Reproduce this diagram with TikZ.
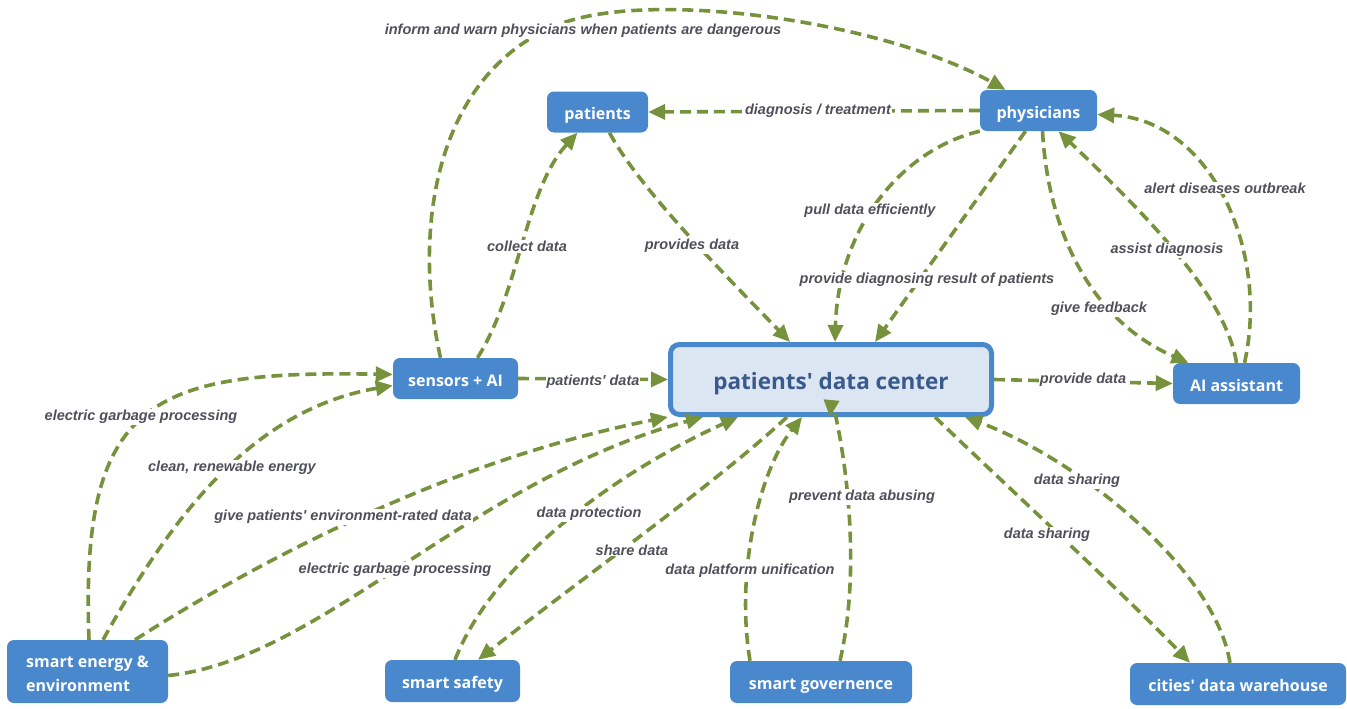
\documentclass[tikz,border=0pt]{standalone}
\usepackage{fontspec}
\usetikzlibrary{arrows.meta}
\newfontfamily\boxfont{Open Sans}
\newfontfamily\lblfont{Liberation Sans}
\definecolor{boxblue}{RGB}{74,136,206}
\definecolor{hubfill}{RGB}{220,230,242}
\definecolor{hubtext}{RGB}{58,90,140}
\definecolor{flowgreen}{RGB}{118,146,60}
\definecolor{lblgray}{RGB}{80,80,90}
\tikzset{
  box/.style={fill=boxblue, rounded corners=7pt, text=white, inner sep=0pt,
    minimum height=41pt, text height=15pt, text depth=0pt,
    font=\boxfont\bfseries\fontsize{16}{24}\selectfont},
  hub/.style={draw=boxblue, line width=5pt, fill=hubfill, rounded corners=9pt,
    text=hubtext, minimum width=321pt, minimum height=70pt,
    text height=19pt, text depth=0pt,
    font=\boxfont\bfseries\fontsize{22.5}{26}\selectfont},
  flow/.style={draw=flowgreen, line width=3.6pt, dash pattern=on 11pt off 6pt,
    -{Triangle[length=17pt,width=15pt]}},
  lbl/.style={fill=white, text=lblgray, inner sep=1pt,
    font=\lblfont\bfseries\itshape\fontsize{14.5}{16}\selectfont}
}
\begin{document}
\begin{tikzpicture}[x=1pt,y=-1pt]
\useasboundingbox (0,0) rectangle (1347,709);
%
\node[box, minimum width=101pt] (pat) at (597.5,112) {patients};
\node[box, minimum width=117pt] (phys) at (1038.5,110.5) {physicians};
\node[box, minimum width=125pt] (sens) at (455.5,378.5) {sensors + AI};
\node[hub] (pdc) at (831,379.5) {patients' data center};
\node[box, minimum width=127pt] (aiast) at (1236.5,383.5) {AI assistant};
%
\node[box, minimum width=161pt, minimum height=63pt, text height=39pt, align=left] (energy) at (87.5,671.5) {smart energy \&\\environment};
\node[box, minimum width=135pt, minimum height=42pt] (safety) at (452.5,681) {smart safety};
\node[box, minimum width=182pt, minimum height=42pt] (gov) at (821,682) {smart governence};
\node[box, minimum width=216pt, minimum height=42pt] (cities) at (1238,684) {cities' data warehouse};
%
\draw[flow] ([xshift=-15pt]sens.north) .. controls (410,220) and (440,70) .. (560,24)
  .. controls (650,-10.5) and (880,20) .. ([xshift=-33pt]phys.north);
\draw[flow] (phys.west) -- (pat.east);
\draw[flow] ([xshift=22pt]sens.north) .. controls (520,290) and (525,190) .. ([xshift=-20pt]pat.south);
\draw[flow] ([xshift=12pt]pat.south) .. controls (640,190) and (730,280) .. ([xshift=-41pt]pdc.north);
\draw[flow] (phys.south west) .. controls (900,150) and (838,230) .. ([xshift=4pt]pdc.north);
\draw[flow] ([xshift=-13pt]phys.south) -- ([xshift=44pt]pdc.north);
\draw[flow] ([xshift=4pt]phys.south) .. controls (1048,230) and (1090,320) .. ([xshift=-48pt]aiast.north);
\draw[flow] (aiast.north) .. controls (1225,290) and (1130,200) .. ([xshift=20pt]phys.south);
\draw[flow] ([xshift=8pt]aiast.north) .. controls (1270,250) and (1210,120) .. ([yshift=-4pt]phys.east);
%
\draw[flow] (sens.east) -- (pdc.west);
\draw[flow] (pdc.east) -- (aiast.west);
%
\draw[flow] ([xshift=1.5pt]energy.north) .. controls (80,400) and (150,370) .. ([yshift=4pt]sens.west);
\draw[flow] ([xshift=15.5pt]energy.north) .. controls (170,520) and (250,410) .. ([yshift=-7pt]sens.west);
\draw[flow] ([xshift=47.5pt]energy.north) .. controls (260,560) and (450,460) .. (pdc.south west);
\draw[flow] ([yshift=-4pt]energy.east) .. controls (320,660) and (470,480) .. ([xshift=-128pt]pdc.south);
%
\draw[flow] ([xshift=2.5pt]safety.north) .. controls (490,570) and (600,480) .. ([xshift=-93pt]pdc.south);
\draw[flow] ([xshift=-44pt]pdc.south) .. controls (720,480) and (580,580) .. ([xshift=25.5pt]safety.north);
\draw[flow] ([xshift=-71pt]gov.north) .. controls (735,570) and (760,470) .. ([xshift=-29pt]pdc.south);
\draw[flow] ([xshift=19pt]gov.north) .. controls (868,540) and (832,395) .. ([xshift=-1pt]pdc.south);
\draw[flow] ([xshift=104pt]pdc.south) .. controls (1000,480) and (1120,590) .. ([xshift=-48pt]cities.north);
\draw[flow] ([xshift=-8pt]cities.north) .. controls (1215,570) and (1080,460) .. ([xshift=134pt]pdc.south);
%
\node[lbl] (l1) at (583,31) {inform and warn physicians when patients are dangerous};
\node[lbl] (l2) at (818,111) {diagnosis / treatment};
\node[lbl] (l3) at (527,246) {collect data};
\node[lbl] (l4) at (692,246) {provides data};
\node[lbl] (l5) at (870,211) {pull data efficiently};
\node[lbl] (l6) at (927,280) {provide diagnosing result of patients};
\node[lbl] (l7) at (1099,309) {give feedback};
\node[lbl] (l8) at (1167,250) {assist diagnosis};
\node[lbl] (l9) at (1225,188) {alert diseases outbreak};
\node[lbl] (l10) at (593,382) {patients' data};
\node[lbl] (l11) at (1083,380) {provide data};
\node[lbl] (l12) at (141,417) {electric garbage processing};
\node[lbl] (l13) at (232,468) {clean, renewable energy};
\node[lbl] (l14) at (343,517) {give patients' environment-rated data};
\node[lbl] (l15) at (395,570) {electric garbage processing};
\node[lbl] (l16) at (589,514) {data protection};
\node[lbl] (l17) at (632,550) {share data};
\node[lbl] (l18) at (750,571) {data platform unification};
\node[lbl] (l19) at (862,497) {prevent data abusing};
\node[lbl] (l20) at (1047,535) {data sharing};
\node[lbl] (l21) at (1077,481) {data sharing};
%
\end{tikzpicture}
\end{document}
